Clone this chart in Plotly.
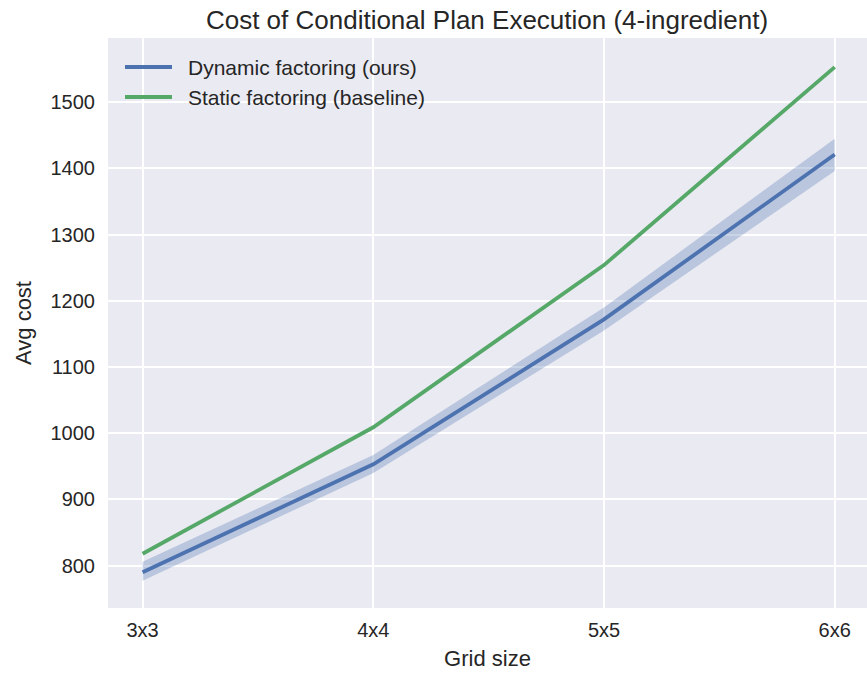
import plotly.graph_objects as go

grid_sizes = ["3x3", "4x4", "5x5", "6x6"]
dynamic_mean = [790, 953, 1172, 1421]
dynamic_low = [777, 940, 1155, 1396]
dynamic_high = [806, 967, 1190, 1445]
static_cost = [818, 1009, 1254, 1553]

series_names = ["Dynamic factoring (ours)", "Static factoring (baseline)"]

x_idx = list(range(len(grid_sizes)))

BLUE = "#4C72B0"
GREEN = "#55A868"
FONT = "Liberation Sans, Arial, sans-serif"
TEXT = "#262626"
LW = 3.8

fig = go.Figure()

# confidence band for the dynamic approach
fig.add_trace(go.Scatter(
    x=x_idx + x_idx[::-1],
    y=dynamic_high + dynamic_low[::-1],
    mode="lines", fill="toself", fillcolor="rgba(76,114,176,0.3)",
    line=dict(width=0, color="rgba(0,0,0,0)"), hoverinfo="skip", showlegend=False,
))
fig.add_trace(go.Scatter(
    x=x_idx, y=dynamic_mean, mode="lines",
    name=series_names[0], showlegend=False,
    line=dict(color=BLUE, width=LW),
))
fig.add_trace(go.Scatter(
    x=x_idx, y=static_cost, mode="lines",
    name=series_names[1], showlegend=False,
    line=dict(color=GREEN, width=LW),
))

# legend drawn in the upper-left corner of the axes (pixel-based offsets)
W, H = 867, 676
ML, MR, MT, MB = 108, 0, 38, 68
pw, ph = W - ML - MR, H - MT - MB


def px_x(px):
    return (px - ML) / pw


def px_y(py):
    return 1 - (py - MT) / ph


shapes = []
annotations = []
for i, (name, col) in enumerate(zip(series_names, [BLUE, GREEN])):
    yy = 67 + 30 * i
    shapes.append(dict(type="line", xref="paper", yref="paper",
                       x0=px_x(125), x1=px_x(172), y0=px_y(yy), y1=px_y(yy),
                       line=dict(color=col, width=LW)))
    annotations.append(dict(text=name, xref="paper", yref="paper",
                            x=px_x(186), y=px_y(yy), xanchor="left", yanchor="middle",
                            showarrow=False, font=dict(size=21, color=TEXT)))

fig.update_layout(
    width=W, height=H,
    margin=dict(l=ML, r=MR, t=MT, b=MB),
    paper_bgcolor="white", plot_bgcolor="#EAEAF2",
    font=dict(family=FONT, size=20, color=TEXT),
    title=dict(text="Cost of Conditional Plan Execution (4-ingredient)",
               x=487 / W, xanchor="center", y=1 - 20 / H, yanchor="middle",
               font=dict(size=26, color=TEXT)),
    showlegend=False,
    shapes=shapes,
    annotations=annotations,
    xaxis=dict(
        tickmode="array", tickvals=x_idx, ticktext=grid_sizes,
        range=[-0.15, 3.14], showgrid=True, gridcolor="white", gridwidth=1.5,
        zeroline=False, showline=False, ticks="",
        tickfont=dict(size=20), ticklabelstandoff=8,
        title=dict(text="Grid size", font=dict(size=22), standoff=10),
    ),
    yaxis=dict(
        range=[736, 1597], tickvals=[800, 900, 1000, 1100, 1200, 1300, 1400, 1500],
        showgrid=True, gridcolor="white", gridwidth=1.5,
        zeroline=False, showline=False, ticks="",
        tickfont=dict(size=20), ticklabelstandoff=12,
        title=dict(text="Avg cost", font=dict(size=22), standoff=12),
    ),
)

fig.write_html("out.html")
